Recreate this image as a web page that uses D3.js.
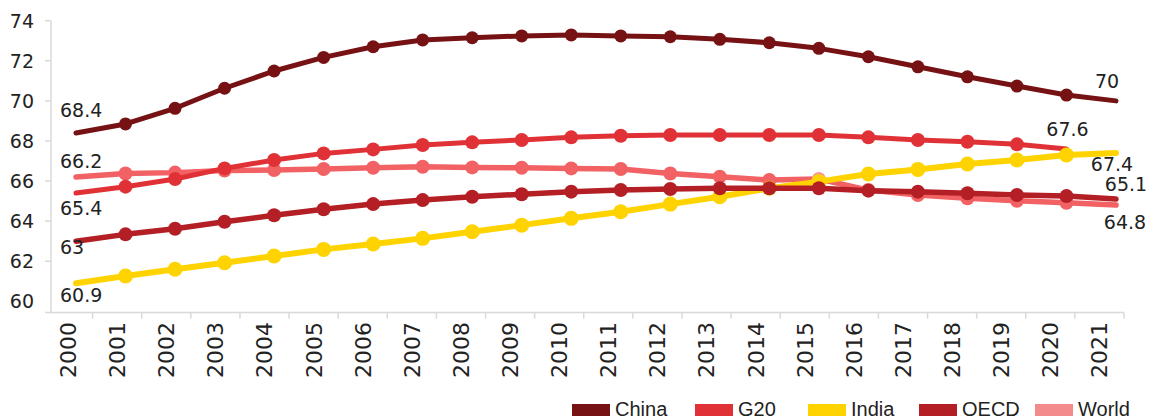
<!DOCTYPE html>
<html>
<head>
<meta charset="utf-8">
<script src="https://cdn.jsdelivr.net/npm/d3@7"></script>
<style>
  html, body { margin: 0; padding: 0; background: #fff; }
  svg { display: block; }
</style>
</head>
<body>
<svg id="chart" width="1153" height="420"></svg>
<script>
// Life expectancy (years), 2000–2021
const years = [2000, 2001, 2002, 2003, 2004, 2005, 2006, 2007, 2008, 2009, 2010,
               2011, 2012, 2013, 2014, 2015, 2016, 2017, 2018, 2019, 2020, 2021];

const china = [68.4, 68.85, 69.63, 70.63, 71.49, 72.17, 72.7, 73.04, 73.15, 73.24, 73.29,
               73.24, 73.2, 73.07, 72.9, 72.62, 72.2, 71.7, 71.2, 70.74, 70.29, 70];
const g20   = [65.4, 65.72, 66.1, 66.63, 67.05, 67.38, 67.58, 67.8, 67.93, 68.05, 68.18,
               68.26, 68.3, 68.3, 68.3, 68.3, 68.18, 68.05, 67.96, 67.83, 67.6];
const india = [60.9, 61.26, 61.6, 61.92, 62.26, 62.59, 62.86, 63.14, 63.47, 63.8, 64.14,
               64.47, 64.85, 65.22, 65.64, 65.97, 66.35, 66.58, 66.85, 67.05, 67.3, 67.4];
const oecd  = [63, 63.34, 63.62, 63.97, 64.29, 64.59, 64.85, 65.05, 65.22, 65.34, 65.47,
               65.55, 65.6, 65.64, 65.64, 65.64, 65.52, 65.47, 65.39, 65.3, 65.25, 65.1];
const world = [66.2, 66.38, 66.42, 66.52, 66.55, 66.6, 66.66, 66.71, 66.68, 66.66, 66.63,
               66.6, 66.38, 66.22, 66.05, 66.1, 65.55, 65.3, 65.14, 65.02, 64.92, 64.8];

const yTicks = [60, 62, 64, 66, 68, 70, 72, 74];
const seriesNames = ["China", "G20", "India", "OECD", "World"];

// ---- styling / layout ----
const style = {
  China: { color: "#761214", swatch: "#761214", width: 5,   r: 6.5 },
  G20:   { color: "#e03236", swatch: "#e03236", width: 5,   r: 7   },
  India: { color: "#ffd300", swatch: "#ffd300", width: 6,   r: 7.5 },
  OECD:  { color: "#b41f25", swatch: "#b41f25", width: 5.5, r: 7   },
  World: { color: "#f26163", swatch: "#f38b8c", width: 5.5, r: 7   }
};
// end-point label placement (offset from the point, text anchor)
const labelPlace = {
  China: { start: [-16, -16, "start"], end: [-9, -13, "middle"] },
  G20:   { start: [-16,  22, "start"], end: [ 1, -13, "middle"] },
  India: { start: [-16,  19, "start"], end: [-4,  18, "middle"] },
  OECD:  { start: [-16,  13, "start"], end: [10,  -8, "middle"] },
  World: { start: [-16,  -9, "start"], end: [ 9,  24, "middle"] }
};
const softPoint = { series: "World", year: 2015, fill: "#f49a9a" };
const drawOrder = ["World", "G20", "India", "OECD", "China"];
const legendX = [572, 695, 808, 919, 1035];

const valuesByName = { China: china, G20: g20, India: india, OECD: oecd, World: world };
const series = seriesNames.map(name => ({
  name,
  points: valuesByName[name].map((v, i) => ({ year: years[i], value: v }))
}));

const svg = d3.select("#chart");
const textColor = "#222";
const axisColor = "#d9d9d9";
const axisY = 312.5;

// category axis (bands) and point positions for the lines
const xBand = d3.scaleBand().domain(years).range([43.5, 1124]);
const xPt = d3.scalePoint().domain(years).range([76, 1116]);
const y = d3.scaleLinear().domain([60, 74]).range([301.3, 20.7]);

// y axis
const gy = svg.append("g");
gy.append("line")
  .attr("x1", 51).attr("x2", 51)
  .attr("y1", y(74)).attr("y2", axisY)
  .attr("stroke", axisColor).attr("stroke-width", 1.5);
gy.selectAll("line.tick").data(yTicks.filter(t => t > 60)).join("line")
  .attr("class", "tick")
  .attr("x1", 45).attr("x2", 51)
  .attr("y1", d => y(d)).attr("y2", d => y(d))
  .attr("stroke", axisColor).attr("stroke-width", 1.5);
gy.selectAll("text").data(yTicks).join("text")
  .attr("x", 34).attr("y", d => y(d)).attr("dy", "0.36em")
  .attr("text-anchor", "end")
  .attr("font-family", "DejaVu Sans, Verdana, sans-serif")
  .attr("font-size", 19).attr("fill", textColor)
  .text(d => d);

// x axis
const gx = svg.append("g");
gx.append("line")
  .attr("x1", 45).attr("x2", 1124)
  .attr("y1", axisY).attr("y2", axisY)
  .attr("stroke", axisColor).attr("stroke-width", 1.5);
gx.selectAll("line.tick").data(years).join("line")
  .attr("class", "tick")
  .attr("x1", d => xBand(d) + xBand.bandwidth())
  .attr("x2", d => xBand(d) + xBand.bandwidth())
  .attr("y1", axisY).attr("y2", axisY + 6)
  .attr("stroke", axisColor).attr("stroke-width", 1.5);
gx.selectAll("text").data(years).join("text")
  .attr("transform", d => `translate(${xBand(d) + xBand.bandwidth() / 2},322) rotate(-90)`)
  .attr("dy", "0.36em")
  .attr("text-anchor", "end")
  .attr("font-family", "DejaVu Sans, Verdana, sans-serif")
  .attr("font-size", 22).attr("fill", textColor)
  .text(d => d);

// lines and markers
const line = d3.line().x(d => xPt(d.year)).y(d => y(d.value));
const byName = Object.fromEntries(series.map(s => [s.name, s]));

drawOrder.forEach(name => {
  const s = byName[name], st = style[name];
  const g = svg.append("g");
  g.append("path")
    .attr("d", line(s.points))
    .attr("fill", "none")
    .attr("stroke", st.color)
    .attr("stroke-width", st.width)
    .attr("stroke-linejoin", "round")
    .attr("stroke-linecap", "round");
  g.selectAll("circle").data(s.points.slice(1, -1)).join("circle")
    .attr("cx", d => xPt(d.year))
    .attr("cy", d => y(d.value))
    .attr("r", st.r)
    .attr("fill", d => (name === softPoint.series && d.year === softPoint.year) ? softPoint.fill : st.color);
});

// first / last value labels
series.forEach(s => {
  const pl = labelPlace[s.name];
  [[s.points[0], pl.start], [s.points[s.points.length - 1], pl.end]].forEach(([p, [dx, dy, anchor]]) => {
    svg.append("text")
      .attr("x", xPt(p.year) + dx)
      .attr("y", y(p.value) + dy)
      .attr("text-anchor", anchor)
      .attr("font-family", "DejaVu Sans, Verdana, sans-serif")
      .attr("font-size", 19).attr("fill", textColor)
      .text(String(p.value));
  });
});

// legend
const lg = svg.append("g");
seriesNames.forEach((name, i) => {
  lg.append("rect")
    .attr("x", legendX[i]).attr("y", 404)
    .attr("width", 38).attr("height", 12)
    .attr("fill", style[name].swatch);
  lg.append("text")
    .attr("x", legendX[i] + 43).attr("y", 416)
    .attr("font-family", "Liberation Sans, Arial, sans-serif")
    .attr("font-size", 20).attr("fill", textColor)
    .text(name);
});
</script>
</body>
</html>
